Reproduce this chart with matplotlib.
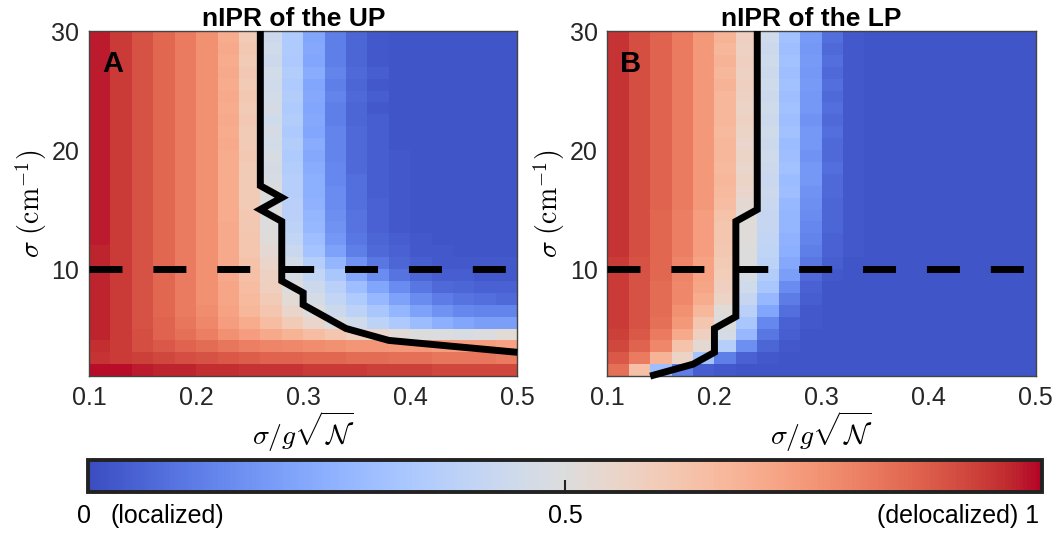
import numpy as np
import matplotlib.pyplot as plt

plt.rcParams['font.family'] = ['Liberation Sans', 'DejaVu Sans']
plt.rcParams['mathtext.fontset'] = 'cm'

# grid of the two maps: sigma/g sqrt(N) bins (x) and sigma in cm^-1 (y)
ratio_edges = np.round(np.arange(0.10, 0.501, 0.02), 2)
sigma_edges = np.arange(1, 31)

# nIPR of the upper polariton, rows sigma = 1 .. 29 (percent)
nipr_up = [
    [99, 99, 98, 97, 97, 96, 96, 95, 95, 95, 94, 94, 94, 93, 93, 93, 92, 92, 92, 92],
    [95, 94, 93, 92, 91, 90, 89, 88, 87, 87, 86, 86, 85, 85, 84, 84, 83, 83, 83, 82],
    [96, 94, 91, 89, 87, 85, 83, 81, 80, 79, 78, 77, 76, 76, 75, 75, 74, 74, 74, 73],
    [97, 94, 91, 87, 84, 81, 77, 74, 71, 68, 65, 62, 58, 55, 52, 50, 49, 48, 49, 52],
    [97, 94, 90, 87, 83, 79, 74, 70, 65, 60, 55, 49, 45, 39, 34, 29, 25, 22, 20, 20],
    [97, 94, 90, 86, 82, 78, 73, 67, 62, 55, 50, 44, 39, 33, 27, 21, 17, 14, 13, 13],
    [97, 94, 90, 86, 82, 77, 72, 66, 60, 52, 47, 41, 35, 28, 21, 15, 11, 9, 8, 7],
    [97, 94, 90, 86, 82, 77, 72, 65, 58, 50, 44, 38, 30, 22, 15, 10, 7, 6, 5, 5],
    [97, 94, 90, 86, 82, 77, 71, 64, 57, 48, 41, 33, 23, 15, 9, 6, 4, 4, 3, 3],
    [97, 94, 90, 86, 82, 77, 71, 63, 55, 46, 37, 27, 17, 10, 6, 4, 3, 3, 3, 3],
    [97, 94, 90, 86, 82, 77, 71, 62, 53, 43, 32, 21, 12, 7, 5, 3, 3, 2, 2, 2],
    [98, 94, 90, 86, 82, 77, 71, 62, 51, 41, 30, 18, 10, 6, 4, 3, 2, 2, 2, 2],
    [98, 94, 90, 86, 82, 77, 71, 61, 50, 39, 28, 17, 9, 5, 3, 2, 2, 2, 2, 2],
    [98, 94, 90, 86, 82, 77, 70, 61, 50, 38, 27, 16, 9, 5, 3, 2, 2, 2, 2, 2],
    [98, 94, 90, 86, 82, 77, 70, 60, 49, 38, 26, 15, 8, 5, 3, 2, 2, 2, 2, 2],
    [98, 94, 90, 86, 82, 77, 70, 60, 50, 37, 25, 15, 8, 4, 3, 2, 2, 2, 2, 2],
    [98, 94, 90, 86, 82, 77, 70, 60, 48, 37, 25, 14, 8, 4, 3, 2, 2, 2, 2, 2],
    [98, 94, 90, 86, 82, 77, 70, 60, 47, 36, 24, 14, 7, 4, 3, 2, 2, 2, 2, 2],
    [98, 94, 90, 86, 82, 77, 70, 61, 48, 35, 23, 13, 7, 4, 3, 2, 2, 2, 2, 2],
    [98, 94, 90, 86, 82, 77, 71, 60, 46, 36, 24, 13, 7, 4, 2, 2, 2, 2, 2, 2],
    [98, 94, 90, 86, 82, 77, 70, 60, 47, 34, 22, 13, 7, 4, 2, 2, 2, 2, 2, 2],
    [98, 94, 90, 86, 82, 77, 71, 61, 45, 36, 23, 12, 6, 4, 2, 2, 2, 2, 2, 2],
    [98, 94, 90, 86, 82, 77, 70, 60, 47, 35, 22, 12, 6, 3, 2, 2, 2, 2, 2, 2],
    [98, 94, 90, 86, 82, 77, 71, 61, 46, 36, 23, 13, 7, 4, 2, 2, 2, 2, 2, 2],
    [98, 94, 90, 86, 82, 77, 70, 60, 45, 35, 22, 12, 6, 3, 2, 2, 2, 2, 2, 2],
    [98, 94, 90, 86, 82, 77, 71, 61, 46, 36, 24, 13, 7, 4, 2, 2, 2, 2, 2, 2],
    [98, 94, 90, 86, 82, 77, 70, 60, 44, 34, 22, 12, 6, 3, 2, 2, 2, 2, 2, 2],
    [98, 94, 90, 86, 82, 77, 71, 61, 45, 35, 23, 12, 6, 3, 2, 2, 2, 2, 2, 2],
    [98, 94, 90, 86, 82, 77, 70, 60, 44, 35, 22, 12, 6, 3, 2, 2, 2, 2, 2, 2],
]

# nIPR of the lower polariton, rows sigma = 1 .. 29 (percent)
nipr_lp = [
    [84, 64, 30, 12, 4, 3, 2, 2, 2, 2, 2, 2, 2, 2, 2, 2, 2, 2, 2, 2],
    [89, 82, 68, 56, 32, 12, 5, 3, 2, 2, 2, 2, 2, 2, 2, 2, 2, 2, 2, 2],
    [92, 87, 79, 63, 53, 37, 16, 6, 3, 2, 2, 2, 2, 2, 2, 2, 2, 2, 2, 2],
    [93, 89, 82, 71, 58, 47, 28, 10, 4, 2, 2, 2, 2, 2, 2, 2, 2, 2, 2, 2],
    [94, 90, 84, 75, 62, 50, 33, 14, 5, 3, 2, 2, 2, 2, 2, 2, 2, 2, 2, 2],
    [94, 90, 85, 77, 67, 51, 38, 22, 8, 3, 2, 2, 2, 2, 2, 2, 2, 2, 2, 2],
    [94, 90, 85, 79, 70, 56, 42, 28, 11, 4, 2, 2, 2, 2, 2, 2, 2, 2, 2, 2],
    [94, 90, 85, 79, 72, 58, 45, 33, 15, 5, 2, 2, 2, 2, 2, 2, 2, 2, 2, 2],
    [94, 90, 86, 80, 73, 59, 48, 36, 20, 7, 3, 2, 2, 2, 2, 2, 2, 2, 2, 2],
    [94, 90, 86, 80, 73, 60, 50, 39, 23, 10, 4, 2, 2, 2, 2, 2, 2, 2, 2, 2],
    [95, 91, 86, 81, 74, 61, 50, 40, 25, 12, 5, 3, 2, 2, 2, 2, 2, 2, 2, 2],
    [95, 91, 86, 81, 74, 62, 51, 41, 26, 13, 5, 3, 2, 2, 2, 2, 2, 2, 2, 2],
    [95, 91, 86, 81, 74, 62, 51, 42, 27, 14, 6, 3, 2, 2, 2, 2, 2, 2, 2, 2],
    [95, 91, 86, 81, 74, 63, 52, 42, 27, 15, 6, 3, 2, 2, 2, 2, 2, 2, 2, 2],
    [95, 91, 87, 82, 75, 65, 53, 43, 28, 16, 6, 3, 2, 2, 2, 2, 2, 2, 2, 2],
    [95, 91, 87, 82, 75, 66, 55, 44, 30, 17, 7, 3, 2, 2, 2, 2, 2, 2, 2, 2],
    [95, 91, 87, 82, 75, 67, 56, 43, 29, 18, 7, 3, 2, 2, 2, 2, 2, 2, 2, 2],
    [95, 91, 87, 82, 75, 66, 55, 44, 31, 18, 8, 3, 2, 2, 2, 2, 2, 2, 2, 2],
    [95, 91, 87, 82, 75, 67, 56, 45, 30, 17, 7, 3, 2, 2, 2, 2, 2, 2, 2, 2],
    [95, 91, 87, 82, 75, 67, 55, 44, 29, 18, 7, 3, 2, 2, 2, 2, 2, 2, 2, 2],
    [95, 91, 87, 82, 75, 66, 56, 45, 31, 18, 8, 3, 2, 2, 2, 2, 2, 2, 2, 2],
    [95, 91, 87, 82, 75, 67, 57, 44, 30, 17, 7, 3, 2, 2, 2, 2, 2, 2, 2, 2],
    [95, 91, 87, 82, 75, 67, 56, 45, 31, 18, 8, 3, 2, 2, 2, 2, 2, 2, 2, 2],
    [95, 91, 87, 82, 75, 67, 57, 44, 30, 18, 7, 3, 2, 2, 2, 2, 2, 2, 2, 2],
    [95, 91, 87, 82, 75, 68, 58, 45, 31, 19, 8, 3, 2, 2, 2, 2, 2, 2, 2, 2],
    [95, 91, 87, 82, 75, 67, 57, 44, 30, 18, 7, 3, 2, 2, 2, 2, 2, 2, 2, 2],
    [95, 91, 87, 82, 75, 68, 58, 45, 31, 19, 8, 3, 2, 2, 2, 2, 2, 2, 2, 2],
    [95, 91, 87, 82, 75, 67, 57, 44, 30, 18, 7, 3, 2, 2, 2, 2, 2, 2, 2, 2],
    [95, 91, 87, 82, 75, 68, 58, 45, 31, 19, 8, 3, 2, 2, 2, 2, 2, 2, 2, 2],
]

# localization boundary (nIPR = 0.5) traced on each map
up_edge_x = [0.26, 0.26, 0.28, 0.26, 0.28, 0.28, 0.30, 0.30, 0.34, 0.38, 0.50]
up_edge_y = [30, 17, 16, 15, 14, 9, 8, 7, 5, 4, 3]
lp_edge_x = [0.24, 0.24, 0.22, 0.22, 0.20, 0.20, 0.18, 0.14]
lp_edge_y = [30, 15, 14, 6, 5, 3, 2, 1]

sigma_ref = 10
xticks = [0.1, 0.2, 0.3, 0.4, 0.5]
yticks = [10, 20, 30]

fig = plt.figure(figsize=(10.6, 5.35), dpi=100)
axA = fig.add_axes([0.084, 0.297, 0.404, 0.645])
axB = fig.add_axes([0.573, 0.297, 0.404, 0.645])
cax = fig.add_axes([0.083, 0.080, 0.900, 0.060])

panels = [(axA, nipr_up, up_edge_x, up_edge_y, 'nIPR of the UP', 'A'),
          (axB, nipr_lp, lp_edge_x, lp_edge_y, 'nIPR of the LP', 'B')]

for ax, vals, ex, ey, title, tag in panels:
    data = np.array(vals) / 100.0
    mesh = ax.pcolormesh(ratio_edges, sigma_edges, data, cmap='coolwarm',
                         vmin=0, vmax=1, shading='flat')
    ax.axhline(sigma_ref, color='black', lw=5, ls=(0, (4.75, 4.45)),
               dash_capstyle='butt', zorder=3)
    ax.plot(ex, ey, color='black', lw=5, clip_on=False,
            solid_joinstyle='miter', solid_capstyle='butt', zorder=4)
    ax.set_xlim(0.1, 0.5)
    ax.set_ylim(1, 30)
    ax.set_xticks(xticks)
    ax.set_xticklabels([f'{t:.1f}' for t in xticks])
    ax.set_yticks(yticks)
    ax.tick_params(length=0, labelsize=18, colors='#262626')
    ax.tick_params(axis='x', pad=7)
    ax.tick_params(axis='y', pad=7)
    ax.set_xlabel(r'$\sigma/g\sqrt{\mathcal{N}}$', fontsize=20, labelpad=0)
    ax.set_ylabel(r'$\sigma\ (\mathrm{cm}^{-1})$', fontsize=20, labelpad=2)
    ax.set_title(title, fontsize=19, fontweight='bold', x=0.477, pad=3)
    ax.text(0.112, 28.4, tag, fontsize=21, fontweight='bold', va='top')
    for sp in ax.spines.values():
        sp.set_color('#444444')
        sp.set_linewidth(1)

cbar = fig.colorbar(mesh, cax=cax, orientation='horizontal')
cbar.set_ticks([0.5])
cax.tick_params(direction='in', length=9, width=1.5, color='#222222',
                labelbottom=False)
cbar.outline.set_linewidth(2.8)
cbar.outline.set_edgecolor('#222222')

fig.text(0.0726, 0.036, '0', fontsize=18, va='center', ha='left')
fig.text(0.104, 0.036, '(localized)', fontsize=18, va='center', ha='left')
fig.text(0.533, 0.036, '0.5', fontsize=18, va='center', ha='center')
fig.text(0.980, 0.036, '(delocalized) 1', fontsize=18, va='center', ha='right')

fig.savefig('out.png', dpi=100)
